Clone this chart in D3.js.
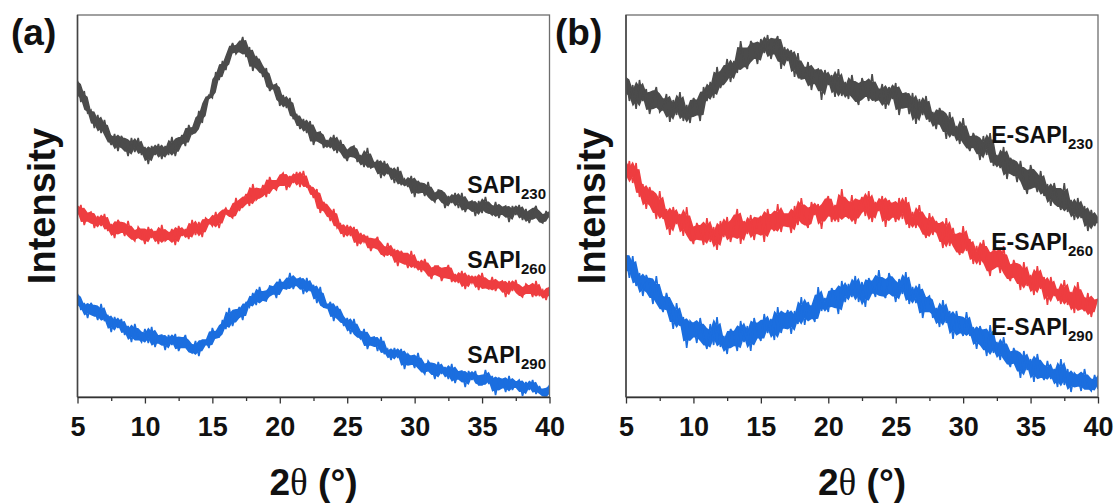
<!DOCTYPE html>
<html>
<head>
<meta charset="utf-8">
<script src="https://cdn.jsdelivr.net/npm/d3@7"></script>
<style>
  body { margin: 0; background: #fff; }
  svg { display: block; }
</style>
</head>
<body>
<svg id="chart" width="1120" height="504"></svg>
<script>
// XRD scans: 2θ from 5° to 40°, one reading every 0.25°
const angleStart = 5;
const angleStep = 0.25;
const angleDomain = [5, 40];
const majorTicks = [5, 10, 15, 20, 25, 30, 35, 40];
const minorTicks = [7.5, 12.5, 17.5, 22.5, 27.5, 32.5, 37.5];
const intensityDomain = [0, 382]; // arbitrary units, stacked traces

// (a) SAPI samples
const sapi230 = [316,295,306,284,287,269,282,264,277,260,252,263,246,261,255,241,259,245,259,242,250,233,251,242,253,238,251,242,260,241,255,262,251,272,263,265,286,274,297,302,299,325,317,336,327,345,354,343,348,360,340,350,326,341,333,320,329,306,311,313,291,302,289,299,278,283,268,278,264,276,252,264,265,249,257,249,262,244,257,244,236,249,251,235,242,230,249,229,231,237,219,236,223,229,214,230,212,218,210,221,200,216,211,201,215,199,195,207,206,189,201,194,204,189,204,185,194,196,181,196,184,200,185,182,195,179,189,191,175,191,182,192,177,188,174,185,191,176,174,186,179];
const sapi260 = [182,192,172,183,185,169,181,171,183,166,173,159,177,171,161,176,160,156,170,165,153,170,159,166,153,172,156,159,168,152,171,161,168,158,177,162,175,160,179,176,171,185,169,184,189,182,179,199,186,195,203,191,213,197,201,212,200,220,210,207,220,224,207,221,214,225,210,226,210,211,199,208,184,195,189,176,188,169,173,160,172,161,170,151,164,155,161,146,155,160,144,141,154,141,148,131,146,140,129,146,129,136,125,138,126,118,131,131,116,125,132,115,123,114,126,108,122,114,121,107,124,110,108,120,106,114,116,100,116,106,117,103,100,113,110,100,116,101,107,97,110];
const sapi290 = [103,87,94,79,94,88,77,93,76,82,65,80,69,78,62,71,55,73,60,55,68,54,70,50,61,62,47,62,52,63,46,55,62,46,44,56,41,57,57,49,69,59,60,77,68,89,71,83,90,77,95,90,104,92,110,97,96,111,110,99,118,109,108,124,108,117,119,103,119,106,112,94,110,90,89,95,76,91,82,71,79,63,78,62,58,68,48,59,60,46,60,43,48,37,49,39,48,28,43,39,29,44,28,23,36,31,18,35,23,30,18,33,14,25,26,10,26,17,26,12,12,27,13,21,2,19,17,5,21,7,14,17,1,15,7,17,3,11,3,-1,12];

// (b) E-SAPI samples
const eSapi230 = [320,296,312,288,317,296,308,283,299,310,285,289,303,275,297,282,305,276,292,274,299,294,276,310,296,315,299,330,309,318,338,315,336,324,356,334,328,356,350,333,358,344,362,338,353,361,328,350,336,347,320,344,318,319,335,307,326,328,297,327,312,322,300,328,301,315,298,322,302,292,319,309,296,323,296,298,313,288,310,298,314,282,303,304,283,304,273,298,282,301,275,285,268,289,281,258,285,261,271,253,279,254,246,264,256,237,261,242,264,231,242,229,250,218,239,234,215,236,216,203,232,219,205,226,201,213,191,214,197,187,214,185,197,177,199,179,191,166,187,171,180];
const eSapi260 = [216,236,214,234,200,213,188,210,198,178,206,178,188,162,190,173,183,161,190,162,153,174,167,152,179,155,170,147,176,160,180,155,170,188,153,176,163,182,157,176,181,155,188,171,166,193,165,183,183,164,191,172,199,177,169,195,182,193,168,193,201,175,192,175,208,182,179,202,173,191,200,181,206,175,195,186,201,170,197,189,175,199,178,200,169,185,169,192,170,159,184,162,176,169,149,179,151,169,150,142,171,146,158,133,151,132,157,137,121,148,143,124,151,123,116,137,127,107,135,111,122,102,131,108,120,92,120,101,108,93,117,92,105,84,115,91,86,104,80,96,98];
const eSapi290 = [142,119,141,111,124,101,122,113,93,121,94,85,104,91,68,94,71,80,49,76,72,54,79,60,48,73,52,80,50,61,43,68,62,46,76,55,71,46,79,64,56,83,64,78,57,90,64,78,87,63,86,73,100,72,95,84,75,110,86,99,85,109,102,83,116,95,113,100,121,95,115,90,119,111,100,127,104,99,124,113,95,118,103,125,93,110,94,113,79,98,101,79,89,70,97,74,86,58,86,69,61,85,61,70,48,71,60,41,72,44,55,37,60,38,30,49,41,19,46,27,38,15,43,24,17,36,18,28,10,38,12,28,5,24,20,6,28,10,6,22,8];

const panelLetters = ["(a)", "(b)"];
const seriesNames = [["SAPI", "SAPI", "SAPI"], ["E-SAPI", "E-SAPI", "E-SAPI"]];
const seriesSubs = ["230", "260", "290"];
const axisTitle = "Intensity";

const colors = ["#4b4b4b", "#ee3d40", "#1b6edf"];
const FONT = "'Liberation Sans', Arial, Helvetica, sans-serif";
const coreFraction = 0.7; // how much of each neighbourhood's spread is filled solid

const svg = d3.select("#chart");
const plotTop = 15, plotBottom = 397;

const panels = [
  { left: 77.5, right: 549.5, data: [sapi230, sapi260, sapi290],
    labelBase: [193, 268, 363], labelRight: 546, letterX: 11, titleX: 55 },
  { left: 626, right: 1098, data: [eSapi230, eSapi260, eSapi290],
    labelBase: [143, 250, 335], labelRight: 1093, letterX: 555, titleX: 605 }
];

panels.forEach((p, pi) => {
  const x = d3.scaleLinear().domain(angleDomain).range([p.left, p.right]);
  const y = d3.scaleLinear().domain(intensityDomain).range([plotBottom, plotTop]);
  const g = svg.append("g");

  const clipId = "plot-clip-" + pi;
  svg.append("clipPath").attr("id", clipId)
    .append("rect")
    .attr("x", p.left).attr("y", plotTop)
    .attr("width", p.right - p.left).attr("height", plotBottom - plotTop);

  const traces = g.append("g").attr("clip-path", `url(#${clipId})`);

  p.data.forEach((vals, si) => {
    const pts = vals.map((v, i) => ({ t: angleStart + i * angleStep, v }));
    // solid core of the noisy trace, taken from each three-reading neighbourhood;
    // the trace itself supplies the spikes beyond it
    const core = pts.map((d, i) => {
      const w = vals.slice(Math.max(0, i - 1), i + 2).sort(d3.ascending);
      const mid = w[Math.floor(w.length / 2)];
      return {
        t: d.t,
        lo: mid - coreFraction * (mid - w[0]),
        hi: mid + coreFraction * (w[w.length - 1] - mid)
      };
    });
    traces.append("path").datum(core)
      .attr("d", d3.area().x(d => x(d.t)).y0(d => y(d.lo)).y1(d => y(d.hi)))
      .attr("fill", colors[si]);
    traces.append("path").datum(pts)
      .attr("d", d3.line().x(d => x(d.t)).y(d => y(d.v)))
      .attr("fill", "none")
      .attr("stroke", colors[si])
      .attr("stroke-width", 1.6)
      .attr("stroke-linejoin", "miter")
      .attr("stroke-miterlimit", 2.5);
  });

  // frame
  g.append("rect")
    .attr("x", p.left).attr("y", plotTop)
    .attr("width", p.right - p.left).attr("height", plotBottom - plotTop)
    .attr("fill", "none").attr("stroke", "#6e6e6e").attr("stroke-width", 1.3);

  // minor ticks
  const minorAxis = g.append("g").attr("transform", `translate(0,${plotBottom})`)
    .call(d3.axisBottom(x).tickValues(minorTicks).tickSize(4).tickSizeOuter(0).tickFormat(""));
  minorAxis.select(".domain").remove();
  minorAxis.selectAll("line").attr("stroke", "#333").attr("stroke-width", 1.3);

  // major ticks and labels
  const axis = g.append("g").attr("transform", `translate(0,${plotBottom})`)
    .call(d3.axisBottom(x).tickValues(majorTicks).tickSize(6.5).tickSizeOuter(0).tickFormat(d3.format("d")));
  axis.select(".domain").attr("stroke", "#333").attr("stroke-width", 1.5);
  axis.selectAll("line").attr("stroke", "#333").attr("stroke-width", 1.3);
  axis.selectAll("text")
    .attr("y", 39).attr("dy", 0)
    .attr("fill", "#111")
    .style("font-family", FONT).style("font-weight", "bold").style("font-size", "27px");

  // left spine, darker like the bottom one
  g.append("line")
    .attr("x1", p.left).attr("x2", p.left).attr("y1", plotTop).attr("y2", plotBottom)
    .attr("stroke", "#444").attr("stroke-width", 1.5);

  // x title
  const xt = g.append("text")
    .attr("x", (p.left + p.right) / 2).attr("y", 495)
    .attr("text-anchor", "middle").attr("fill", "#111")
    .style("font-family", FONT).style("font-weight", "bold").style("font-size", "37px");
  xt.append("tspan").text("2");
  xt.append("tspan").text("θ")
    .style("font-family", "'Liberation Serif', 'DejaVu Serif', serif").style("font-weight", "normal");
  xt.append("tspan").text(" (°)");

  // y title
  g.append("text")
    .attr("transform", `translate(${p.titleX},${(plotTop + plotBottom) / 2}) rotate(-90)`)
    .attr("text-anchor", "middle").attr("fill", "#111")
    .style("font-family", FONT).style("font-weight", "bold").style("font-size", "38px")
    .text(axisTitle);

  // panel letter
  g.append("text")
    .attr("x", p.letterX).attr("y", 45)
    .attr("fill", "#111")
    .style("font-family", FONT).style("font-weight", "bold").style("font-size", "37px")
    .text(panelLetters[pi]);

  // series labels
  p.data.forEach((vals, si) => {
    const t = g.append("text")
      .attr("x", p.labelRight).attr("y", p.labelBase[si])
      .attr("text-anchor", "end").attr("fill", "#111")
      .style("font-family", FONT).style("font-weight", "bold").style("font-size", "23px");
    t.append("tspan").text(seriesNames[pi][si]);
    t.append("tspan").attr("dy", 5.5).style("font-size", "15px").text(seriesSubs[si]);
  });
});
</script>
</body>
</html>
